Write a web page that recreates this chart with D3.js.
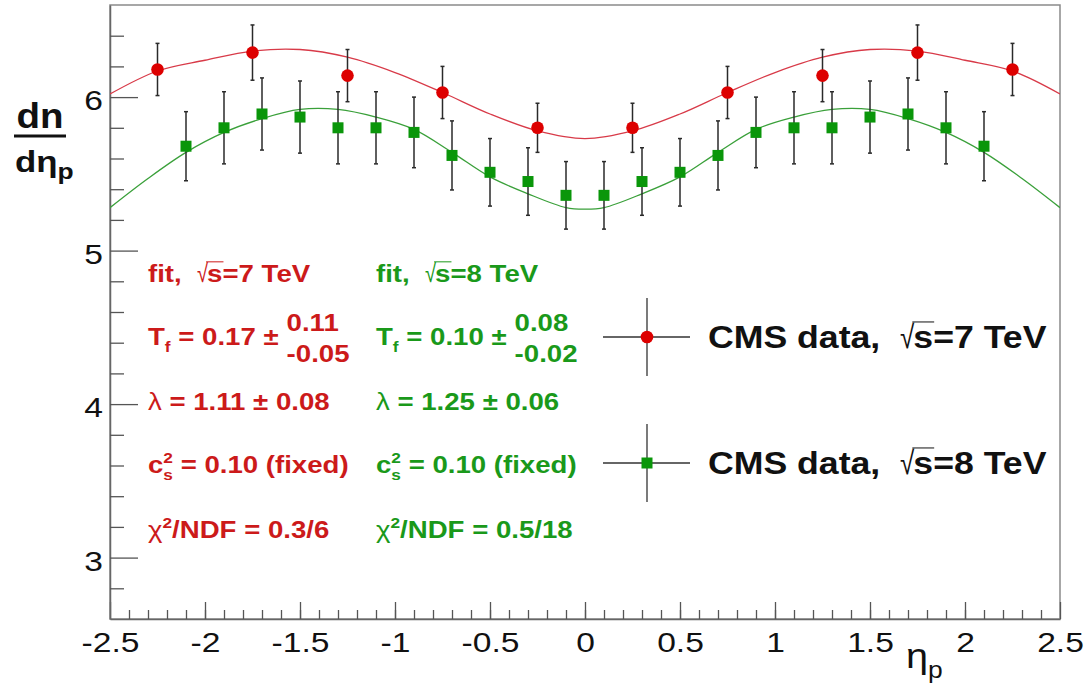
<!DOCTYPE html>
<html>
<head>
<meta charset="utf-8">
<script src="https://cdn.jsdelivr.net/npm/d3@7"></script>
<style>
  html, body { margin: 0; padding: 0; background: #fff; }
  svg { display: block; font-family: "Liberation Sans", Arial, sans-serif; }
  svg text { white-space: pre; }
</style>
</head>
<body>
<svg id="chart" width="1085" height="685"></svg>
<script>
// CMS data, sqrt(s) = 7 TeV
const eta7 = [-2.25, -1.75, -1.25, -0.75, -0.25, 0.25, 0.75, 1.25, 1.75, 2.25];
const dn7  = [6.18, 6.29, 6.14, 6.03, 5.80, 5.80, 6.03, 6.14, 6.29, 6.18];
const err7 = [0.17, 0.18, 0.17, 0.17, 0.16, 0.16, 0.17, 0.17, 0.18, 0.17];

// CMS data, sqrt(s) = 8 TeV
const eta8 = [-2.1, -1.9, -1.7, -1.5, -1.3, -1.1, -0.9, -0.7, -0.5, -0.3, -0.1,
               0.1,  0.3,  0.5,  0.7,  0.9,  1.1,  1.3,  1.5,  1.7,  1.9,  2.1];
const dn8  = [5.68, 5.80, 5.89, 5.87, 5.80, 5.80, 5.77, 5.62, 5.51, 5.45, 5.36,
              5.36, 5.45, 5.51, 5.62, 5.77, 5.80, 5.80, 5.87, 5.89, 5.80, 5.68];
const err8 = [0.225, 0.235, 0.235, 0.235, 0.235, 0.235, 0.23, 0.225, 0.22, 0.22, 0.22,
              0.22, 0.22, 0.22, 0.225, 0.23, 0.235, 0.235, 0.235, 0.235, 0.235, 0.225];

// Fitted curves, sampled along eta_p
const fitEta7 = [-2.5, -2.25, -2.0, -1.75, -1.5, -1.25, -1.0, -0.75, -0.5, -0.25, 0,
                  0.25, 0.5, 0.75, 1.0, 1.25, 1.5, 1.75, 2.0, 2.25, 2.5];
const fit7    = [6.02, 6.17, 6.24, 6.30, 6.31, 6.26, 6.16, 6.03, 5.89, 5.78, 5.73,
                 5.78, 5.89, 6.03, 6.16, 6.26, 6.31, 6.30, 6.24, 6.17, 6.02];
const fitEta8 = [-2.5, -2.3, -2.1, -1.9, -1.7, -1.5, -1.3, -1.1, -0.9, -0.7, -0.5, -0.3, -0.1, 0,
                  0.1, 0.3, 0.5, 0.7, 0.9, 1.1, 1.3, 1.5, 1.7, 1.9, 2.1, 2.3, 2.5];
const fit8    = [5.28, 5.47, 5.64, 5.77, 5.86, 5.92, 5.92, 5.87, 5.79, 5.64, 5.48, 5.37, 5.28, 5.27,
                 5.28, 5.37, 5.48, 5.64, 5.79, 5.87, 5.92, 5.92, 5.86, 5.77, 5.64, 5.47, 5.28];

// Axis ticks
const xMajor = [-2.5, -2, -1.5, -1, -0.5, 0, 0.5, 1, 1.5, 2, 2.5];
const xMinor = d3.range(-24, 25).map(v => v / 10);
const yMajor = [3, 4, 5, 6];
const yMinor = [2.8, 3.2, 3.4, 3.6, 3.8, 4.2, 4.4, 4.6, 4.8, 5.2, 5.4, 5.6, 5.8, 6.2, 6.4];

const RED = "#cc1a1a", GREEN = "#1a991a";
const SX = 1.15;      // horizontal stretch of the label font
const TICK_SX = 1.2;  // horizontal stretch of the tick-label font

const svg = d3.select("#chart");
const L = 110, R = 1060, T = 5, B = 619;
const x = d3.scaleLinear().domain([-2.5, 2.5]).range([L, R]);
const y = d3.scaleLinear().domain([2.6, 6.6]).range([B, T]);

// frame
svg.append("rect").attr("x", L).attr("y", T).attr("width", R - L).attr("height", B - T)
  .attr("fill", "none").attr("stroke", "#8a8a8a").attr("stroke-width", 1.5);

// axes with inward ticks
function styleAxis(g) {
  g.selectAll("path.domain").attr("stroke", "#666").attr("stroke-width", 1.5);
  g.selectAll(".tick line").attr("stroke", "#555").attr("stroke-width", 1.3);
  g.selectAll(".tick text").attr("fill", "#111")
    .style("font-family", "'Liberation Sans', Arial, sans-serif").style("font-size", "28px");
}
const fmt = d => String(d);
svg.append("g").attr("transform", `translate(0,${B})`)
  .call(d3.axisBottom(x).tickValues(xMinor).tickSizeInner(-9).tickSizeOuter(0).tickFormat(""))
  .call(styleAxis);
svg.append("g").attr("transform", `translate(0,${B})`)
  .call(d3.axisBottom(x).tickValues(xMajor).tickSizeInner(-17).tickSizeOuter(0).tickPadding(13).tickFormat(fmt))
  .call(styleAxis)
  .call(g => g.select("path.domain").remove())
  .call(g => g.selectAll(".tick text").attr("transform", `scale(${TICK_SX},1)`));
svg.append("g").attr("transform", `translate(${L},0)`)
  .call(d3.axisLeft(y).tickValues(yMinor).tickSizeInner(-14).tickSizeOuter(0).tickFormat(""))
  .call(styleAxis);
svg.append("g").attr("transform", `translate(${L},0)`)
  .call(d3.axisLeft(y).tickValues(yMajor).tickSizeInner(-28).tickSizeOuter(0).tickPadding(7).tickFormat(fmt))
  .call(styleAxis)
  .call(g => g.select("path.domain").remove())
  .call(g => g.selectAll(".tick text").attr("dy", "0.45em").attr("transform", `scale(${TICK_SX},1)`)
    .attr("x", -7 / TICK_SX));

// fit curves
svg.append("clipPath").attr("id", "plotclip")
  .append("rect").attr("x", L).attr("y", T).attr("width", R - L).attr("height", B - T);
const line = d3.line().x(d => x(d[0])).y(d => y(d[1])).curve(d3.curveCatmullRom.alpha(0.5));
svg.append("path").attr("clip-path", "url(#plotclip)")
  .attr("d", line(fitEta7.map((e, i) => [e, fit7[i]])))
  .attr("fill", "none").attr("stroke", "#d83a48").attr("stroke-width", 1.3);
svg.append("path").attr("clip-path", "url(#plotclip)")
  .attr("d", line(fitEta8.map((e, i) => [e, fit8[i]])))
  .attr("fill", "none").attr("stroke", "#3aa03a").attr("stroke-width", 1.3);

// error bars and markers
function errorBars(etas, vals, errs) {
  const g = svg.append("g").attr("stroke", "#2a2a2a").attr("stroke-width", 1.5);
  etas.forEach((e, i) => {
    const cx = x(e), y0 = y(vals[i] - errs[i]), y1 = y(vals[i] + errs[i]);
    g.append("line").attr("x1", cx).attr("x2", cx).attr("y1", y0).attr("y2", y1);
    g.append("line").attr("x1", cx - 2).attr("x2", cx + 2).attr("y1", y0).attr("y2", y0);
    g.append("line").attr("x1", cx - 2).attr("x2", cx + 2).attr("y1", y1).attr("y2", y1);
  });
}
errorBars(eta8, dn8, err8);
errorBars(eta7, dn7, err7);

svg.append("g").selectAll("rect").data(eta8).join("rect")
  .attr("x", (d) => x(d) - 5.5).attr("y", (d, i) => y(dn8[i]) - 5.5)
  .attr("width", 11).attr("height", 11).attr("fill", "#0a960a");
svg.append("g").selectAll("circle").data(eta7).join("circle")
  .attr("cx", d => x(d)).attr("cy", (d, i) => y(dn7[i])).attr("r", 6.3).attr("fill", "#dd0000");

// rich text laid out piece by piece, each piece stretched horizontally
function rich(x0, y0, pieces, color) {
  let cx = x0;
  pieces.forEach(p => {
    const size = p.size || 24;
    const sx = p.sx || SX;
    const px = cx + (p.dx || 0), py = y0 + (p.dy || 0);
    const el = svg.append("text")
      .attr("transform", `translate(${px},${py}) scale(${sx},1)`)
      .attr("fill", color).style("font-size", size + "px")
      .style("font-weight", p.w || "bold")
      .style("font-family", p.fam || "'Liberation Sans', Arial, sans-serif")
      .text(p.t);
    const w = el.node().getComputedTextLength() * sx;
    if (p.over) {
      svg.append("line").attr("x1", px - 1).attr("x2", px + w + 1)
        .attr("y1", y0 - size * 0.84).attr("y2", y0 - size * 0.84)
        .attr("stroke", color).attr("stroke-width", 1);
    }
    if (!p.stay) cx = px + w;
  });
  return cx;
}
function sqrtS(size) {
  return [
    { t: "\u221A", w: "normal", size: size * 1.05, sx: 0.8 },
    { t: "s", size: size, over: true, dx: -1 }
  ];
}

// parameter blocks
function fitBlock(x0, color, energy, tf, tfUp, tfDn, lam, chi) {
  rich(x0, 282, [{ t: "fit,  " }, ...sqrtS(24), { t: "=" + energy + " TeV" }], color);
  const endT = rich(x0, 345, [
    { t: "T" }, { t: "f", size: 15, dy: 7 }, { t: " = " + tf + " \u00B1" }
  ], color);
  rich(endT + 8, 331, [{ t: tfUp }], color);
  rich(endT + 8, 362, [{ t: tfDn }], color);
  rich(x0, 410, [{ t: "\u03BB", w: "normal" }, { t: " = " + lam }], color);
  rich(x0, 473, [
    { t: "c" }, { t: "2", size: 15, dy: -10, stay: true }, { t: "s", size: 15, dy: 7 },
    { t: " = 0.10 (fixed)" }
  ], color);
  rich(x0, 538, [{ t: "\u03C7", w: "normal" }, { t: "2", size: 15, dy: -10 }, { t: "/NDF = " + chi }], color);
}
fitBlock(148, RED, "7", "0.17", "0.11", "-0.05", "1.11 \u00B1 0.08", "0.3/6");
fitBlock(376, GREEN, "8", "0.10", "0.08", "-0.02", "1.25 \u00B1 0.06", "0.5/18");

// legend
function legendEntry(cy, halfV, label, drawMarker) {
  const g = svg.append("g").attr("stroke", "#333").attr("stroke-width", 1.3);
  g.append("line").attr("x1", 603).attr("x2", 690).attr("y1", cy).attr("y2", cy);
  g.append("line").attr("x1", 647).attr("x2", 647).attr("y1", cy - halfV).attr("y2", cy + halfV);
  drawMarker(647, cy);
  rich(708, cy + 11, [{ t: "CMS data,  ", size: 31 }, ...sqrtS(31), { t: "=" + label + " TeV", size: 31 }], "#111");
}
legendEntry(337, 39, "7", (cx, cy) => svg.append("circle").attr("cx", cx).attr("cy", cy).attr("r", 6.3).attr("fill", "#dd0000"));
legendEntry(463, 39, "8", (cx, cy) => svg.append("rect").attr("x", cx - 5.5).attr("y", cy - 5.5).attr("width", 11).attr("height", 11).attr("fill", "#0a960a"));

// axis titles
svg.append("text").attr("transform", "translate(40,128) scale(1.1,1)").attr("text-anchor", "middle")
  .style("font-size", "35px").style("font-weight", "bold").attr("fill", "#111").text("dn");
svg.append("line").attr("x1", 14).attr("x2", 66).attr("y1", 136).attr("y2", 136)
  .attr("stroke", "#111").attr("stroke-width", 3);
const yl = svg.append("text").attr("transform", "translate(15,172) scale(1.2,1)").attr("fill", "#111")
  .style("font-size", "29px").style("font-weight", "bold");
yl.append("tspan").text("d\u03B7");
yl.append("tspan").attr("dy", 7).style("font-size", "22px").text("p");

const xl = svg.append("text").attr("transform", "translate(906,668) scale(1.1,1)").attr("fill", "#111")
  .style("font-size", "36px");
xl.append("tspan").text("\u03B7");
xl.append("tspan").attr("dy", 10).style("font-size", "24px").text("p");
</script>
</body>
</html>
